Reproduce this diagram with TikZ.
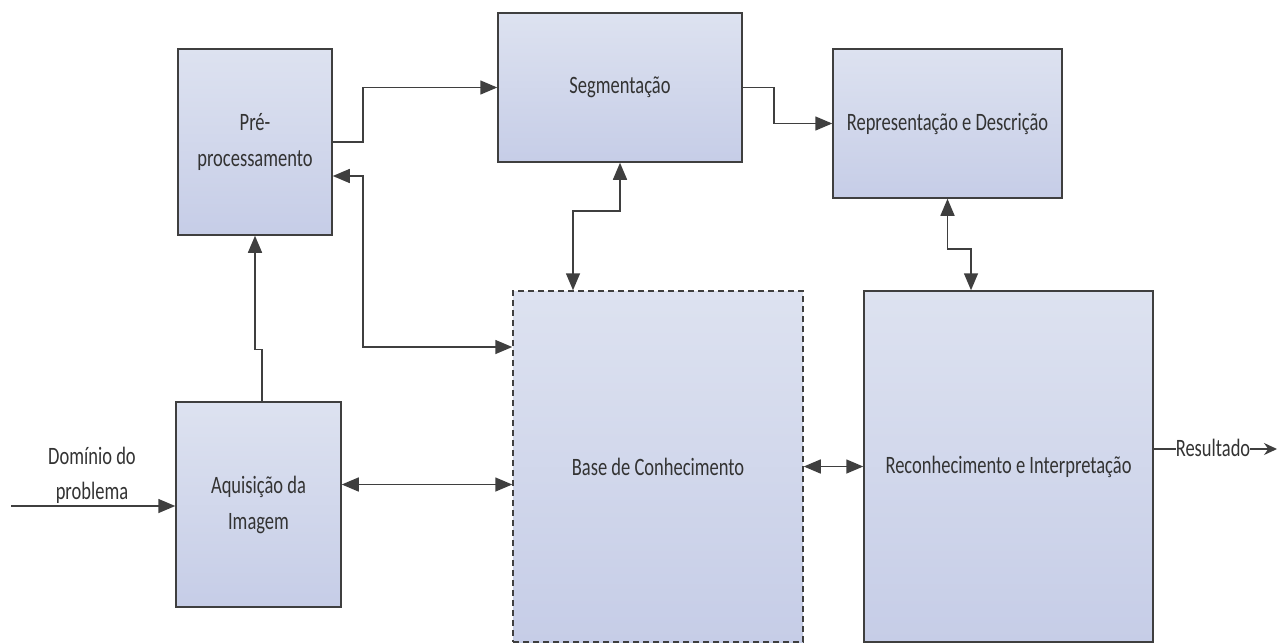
\documentclass[tikz,border=0pt]{standalone}
\usepackage{fontspec}
\setmainfont{Carlito}[FakeStretch=0.74]
\usetikzlibrary{arrows.meta,calc}
\definecolor{edge}{HTML}{3F3F3F}
\definecolor{ink}{HTML}{333333}
\definecolor{boxtop}{HTML}{DDE2F0}
\definecolor{boxbot}{HTML}{C6CDE7}
\tikzset{
  block/.style={rectangle, draw=edge, line width=1.5pt, top color=boxtop, bottom color=boxbot,
    text=ink, align=center, inner sep=2pt, font=\fontsize{25}{36}\selectfont},
  dashblock/.style={block, dash pattern=on 6pt off 4pt},
  conn/.style={draw=edge, line width=1.5pt},
  arr/.style={conn, -{Triangle[length=17pt,width=14pt]}},
  biarr/.style={conn, {Triangle[length=17pt,width=14pt]}-{Triangle[length=17pt,width=14pt]}},
  smallarr/.style={conn, -{Stealth[length=13pt,width=12pt]}},
  lbl/.style={text=ink, align=center, inner sep=0pt, font=\fontsize{25}{35}\selectfont}
}
\begin{document}
\begin{tikzpicture}[x=1pt,y=-1pt]
  \useasboundingbox[fill=white] (0,0) rectangle (1284,643);

  % processing blocks
  \node[block, minimum width=154pt, minimum height=186pt] (pre) at (255,142) {Pré-\\processamento};
  \node[block, minimum width=244pt, minimum height=149pt] (seg) at (620,87.5) {Segmentação};
  \node[block, minimum width=229pt, minimum height=149pt] (rep) at (947.5,123.5) {Representação e Descrição};
  \node[block, minimum width=165pt, minimum height=205pt] (aq) at (258.5,504.5) {Aquisição da\\Imagem};
  \node[dashblock, minimum width=290pt, minimum height=351pt] (base) at (658,466.5) {Base de Conhecimento};
  \node[block, minimum width=289pt, minimum height=351pt] (reco) at (1008.5,466.5) {Reconhecimento e Interpretação};

  % input and output
  \coordinate (dom) at (11,506);
  \node[lbl] (domlbl) at (92,475) {Domínio do\\problema};
  \node[lbl] (res) at (1213,448) {Resultado};
  \coordinate (resend) at (1277,449);

  \draw[arr] (dom) -- (dom -| aq.west);
  \draw[conn] (reco.east |- 0,449) -- (res.west |- 0,449);
  \draw[smallarr] (res.east |- 0,449) -- (resend);

  % data flow
  \draw[arr] ([xshift=3.5pt]aq.north) -- ++(0,-52) -| (pre.south);
  \draw[arr] (pre.east) -- ++(30,0) |- (seg.west);
  \draw[arr] (seg.east) -- ++(31,0) |- (rep.west);

  % links to the knowledge base
  \draw[biarr] ([yshift=-34pt]pre.east) -- ++(30,0) |- ([yshift=119.5pt]base.west);
  \draw[biarr] ([yshift=20pt]aq.east) -- ([yshift=20pt]aq.east -| base.west);
  \draw[biarr] (seg.south) -- ++(0,48) -| ([xshift=-85pt]base.north);
  \draw[biarr] (base.east) -- (reco.west);
  \draw[biarr] (rep.south) -- ++(0,50) -| ([xshift=-37.5pt]reco.north);
\end{tikzpicture}
\end{document}
